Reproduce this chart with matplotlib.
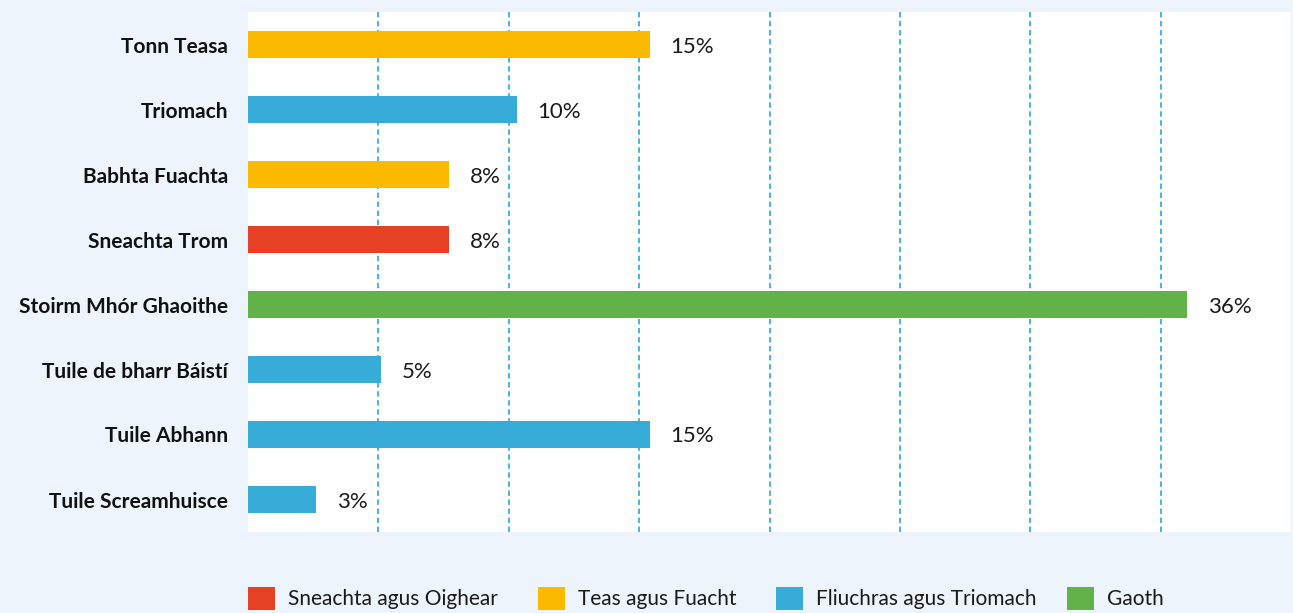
import matplotlib
matplotlib.use("Agg")
import matplotlib.pyplot as plt
from matplotlib.patches import Patch

plt.rcParams['font.family'] = ['Lato', 'DejaVu Sans']

categories = ["Tonn Teasa", "Triomach", "Babhta Fuachta", "Sneachta Trom",
              "Stoirm Mhór Ghaoithe", "Tuile de bharr Báistí", "Tuile Abhann",
              "Tuile Screamhuisce"]
values = [15.4, 10.3, 7.7, 7.7, 36.0, 5.1, 15.4, 2.6]
groups = ["Teas agus Fuacht", "Fliuchras agus Triomach", "Teas agus Fuacht",
          "Sneachta agus Oighear", "Gaoth", "Fliuchras agus Triomach",
          "Fliuchras agus Triomach", "Fliuchras agus Triomach"]
legend_order = ["Sneachta agus Oighear", "Teas agus Fuacht",
                "Fliuchras agus Triomach", "Gaoth"]
colors = {"Sneachta agus Oighear": "#E54125", "Teas agus Fuacht": "#FBBA00",
          "Fliuchras agus Triomach": "#38ACD8", "Gaoth": "#62B24A"}
grid_ticks = [5, 10, 15, 20, 25, 30, 35]

W, H = 1293, 613
fig = plt.figure(figsize=(W / 100, H / 100), dpi=100)
fig.patch.set_facecolor("#EEF4FC")
ax = fig.add_axes([248 / W, 1 - 532 / H, 1043 / W, 520 / H])
ax.set_facecolor("white")

ypos = list(range(len(categories)))
ax.barh(ypos, values, height=0.415, color=[colors[g] for g in groups], zorder=3)
for y, v in zip(ypos, values):
    ax.annotate(f"{round(v):d}%", (v, y), xytext=(21, -2), textcoords="offset pixels",
                va="center", ha="left", fontsize=16, color="#1a1a1a")

ax.set_xlim(0, 40)
ax.set_ylim(len(categories) - 0.5, -0.5)
ax.set_xticks(grid_ticks)
ax.set_xticklabels([])
ax.tick_params(axis="x", length=0)
ax.grid(axis="x", color="#3AAFDD", linestyle=(0, (3, 2)), linewidth=1.3, zorder=1)
ax.set_yticks(ypos)
ax.set_yticklabels(categories, fontsize=15, fontweight="bold", color="#111111")
ax.tick_params(axis="y", length=0, pad=14.4)
for s in ax.spines.values():
    s.set_visible(False)

# legend entries placed individually to match the reference spacing
legend_x = [248, 538, 776, 1067]
for g, x in zip(legend_order, legend_x):
    fig.legend(handles=[Patch(facecolor=colors[g], edgecolor="none", label=g)],
               loc="center left", bbox_to_anchor=(x / W, 1 - 598.5 / H),
               frameon=False, fontsize=15, handlelength=1.3, handleheight=1.3,
               handletextpad=0.62, borderpad=0, borderaxespad=0,
               labelcolor="#1a1a1a")

fig.savefig("out.png", dpi=100, facecolor=fig.get_facecolor())
